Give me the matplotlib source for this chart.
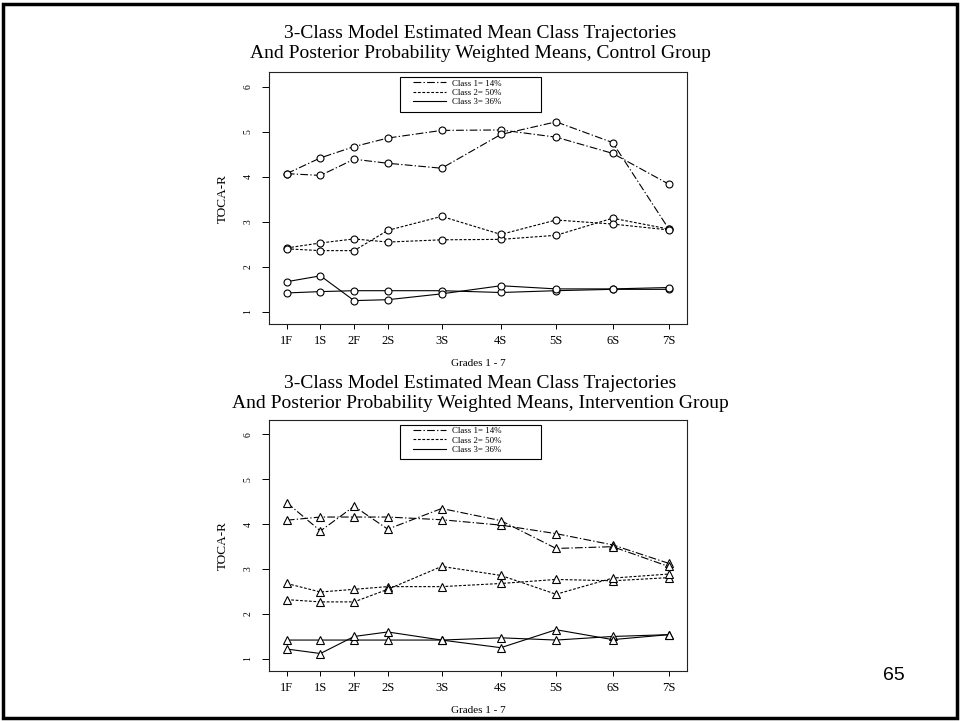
import matplotlib.pyplot as plt
from matplotlib.lines import Line2D
from matplotlib.patches import Rectangle

# measurement occasions (fall/spring of each grade) and their spacing on the time axis
grades = ['1F', '1S', '2F', '2S', '3S', '4S', '5S', '6S', '7S']
grade_pos = [0, 0.5, 1, 1.5, 2.3, 3.18, 4.0, 4.84, 5.67]

legend_labels = ['Class 1= 14%', 'Class 2= 50%', 'Class 3= 36%']

# control group: estimated trajectory and posterior probability weighted mean per class
ctrl_c1_est = [4.07, 4.42, 4.67, 4.86, 5.03, 5.04, 4.88, 4.52, 3.84]
ctrl_c1_obs = [4.07, 4.03, 4.39, 4.30, 4.19, 4.94, 5.22, 4.76, 2.85]
ctrl_c2_est = [2.42, 2.53, 2.62, 2.55, 2.60, 2.61, 2.70, 3.08, 2.84]
ctrl_c2_obs = [2.40, 2.36, 2.36, 2.81, 3.12, 2.72, 3.04, 2.95, 2.82]
ctrl_c3_est = [1.42, 1.45, 1.47, 1.47, 1.47, 1.43, 1.47, 1.50, 1.50]
ctrl_c3_obs = [1.67, 1.80, 1.25, 1.27, 1.40, 1.58, 1.51, 1.51, 1.54]

# intervention group
intv_c1_est = [4.09, 4.16, 4.16, 4.16, 4.10, 3.98, 3.79, 3.54, 3.13]
intv_c1_obs = [4.48, 3.85, 4.40, 3.89, 4.35, 4.08, 3.46, 3.50, 3.06]
intv_c2_est = [2.68, 2.49, 2.55, 2.61, 2.61, 2.68, 2.77, 2.74, 2.81]
intv_c2_obs = [2.32, 2.27, 2.27, 2.55, 3.06, 2.86, 2.44, 2.80, 2.89]
intv_c3_est = [1.42, 1.42, 1.42, 1.42, 1.42, 1.47, 1.42, 1.50, 1.54]
intv_c3_obs = [1.22, 1.12, 1.50, 1.60, 1.42, 1.25, 1.65, 1.43, 1.54]

yticks = [1, 2, 3, 4, 5, 6]

plt.rcParams['font.family'] = ['Liberation Serif', 'DejaVu Serif']

dashdot = (0, (7, 2, 1.2, 2))
dashed = (0, (2.5, 1.5))
styles = [dashdot, dashed, '-']

fig = plt.figure(figsize=(9.6, 7.21), dpi=100)

# slide frame
fig.patches.append(Rectangle((0.0035, 0.0035), 0.993, 0.9915, transform=fig.transFigure,
                             fill=False, edgecolor='black', linewidth=2.5))


def draw_panel(ax, series, marker, ms):
    for i, (est, obs) in enumerate(series):
        for vals in (est, obs):
            ax.plot(grade_pos, vals, color='black', linestyle=styles[i], linewidth=0.8,
                    marker=marker, markersize=ms, markerfacecolor='white',
                    markeredgecolor='black', markeredgewidth=0.8)
    ax.set_xlim(-0.26, 5.94)
    ax.set_ylim(0.73, 6.32)
    ax.set_xticks(grade_pos)
    ax.set_xticklabels(grades, fontsize=9)
    ax.set_yticks(yticks)
    ax.set_yticklabels([str(t) for t in yticks], fontsize=7, rotation=90, va='center')
    ax.tick_params(axis='x', length=3.6, width=0.7, pad=4)
    ax.tick_params(axis='y', length=5, width=0.7, pad=7)
    for s in ax.spines.values():
        s.set_linewidth(0.8)
        s.set_color('#222222')
    ax.set_xlabel('Grades 1 - 7', fontsize=8, labelpad=9)
    ax.set_ylabel('TOCA-R', fontsize=9.5, labelpad=11)

    # legend box is wider than its entries, so the frame is drawn separately
    ax.add_patch(Rectangle((0.313, 0.8435), 0.337, 0.1365, transform=ax.transAxes,
                           fill=False, edgecolor='black', linewidth=0.8, zorder=5))
    handles = [Line2D([0], [0], color='black', linestyle=st, linewidth=0.8) for st in styles]
    ax.legend(handles, legend_labels, loc='upper left', bbox_to_anchor=(0.3436, 0.972),
              fontsize=6.4, frameon=False, handlelength=3.7, handletextpad=0.75,
              borderpad=0, labelspacing=0.12, borderaxespad=0)


ax1 = fig.add_axes([0.2805, 0.5506, 0.4348, 0.3491])
draw_panel(ax1, [(ctrl_c1_est, ctrl_c1_obs), (ctrl_c2_est, ctrl_c2_obs),
                 (ctrl_c3_est, ctrl_c3_obs)], 'o', 5)

ax2 = fig.add_axes([0.2805, 0.0693, 0.4348, 0.3481])
draw_panel(ax2, [(intv_c1_est, intv_c1_obs), (intv_c2_est, intv_c2_obs),
                 (intv_c3_est, intv_c3_obs)], '^', 6)

fig.text(0.5, 1 - 34 / 721, '3-Class Model Estimated Mean Class Trajectories',
         ha='center', va='center', fontsize=14)
fig.text(0.5, 1 - 54 / 721, 'And Posterior Probability Weighted Means, Control Group',
         ha='center', va='center', fontsize=14)
fig.text(0.5, 1 - 383 / 721, '3-Class Model Estimated Mean Class Trajectories',
         ha='center', va='center', fontsize=14)
fig.text(0.5, 1 - 403 / 721, 'And Posterior Probability Weighted Means, Intervention Group',
         ha='center', va='center', fontsize=14)

fig.text(894 / 960, 1 - 676 / 721, '65', ha='center', va='center', fontsize=14,
         family=['Liberation Sans', 'DejaVu Sans'])

fig.savefig('out.png', dpi=100)
